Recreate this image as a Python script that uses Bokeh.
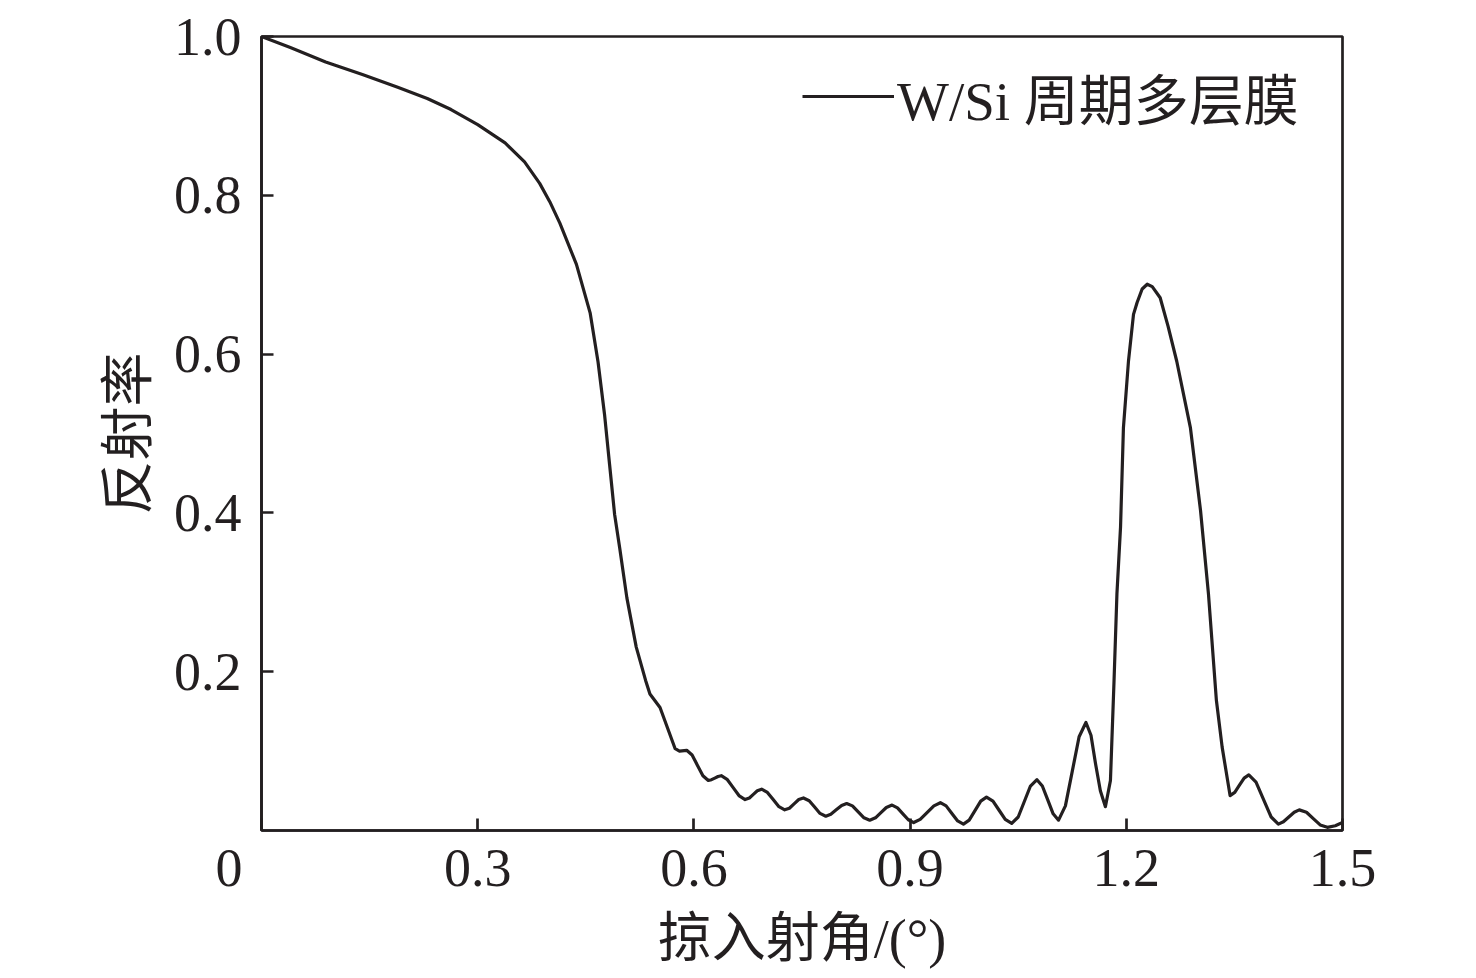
from bokeh.plotting import figure
from bokeh.models import Range1d, FixedTicker, Legend, LegendItem
from bokeh.embed import file_html
from bokeh.resources import INLINE

# ---- data ----
angle = [
    0.000, 0.040, 0.089, 0.140, 0.189, 0.230, 0.263, 0.300, 0.338, 0.365,
    0.386, 0.400, 0.414, 0.437, 0.456, 0.467, 0.476, 0.483, 0.490, 0.497,
    0.507, 0.520, 0.533, 0.539, 0.553, 0.574, 0.580, 0.590,
    0.5975, 0.605, 0.6125, 0.620, 0.6245, 0.629, 0.6335, 0.638,
    0.646, 0.6545, 0.663, 0.671, 0.677, 0.6825, 0.688, 0.694,
    0.702, 0.710, 0.718, 0.726, 0.7325, 0.739, 0.7455, 0.752,
    0.760, 0.7675, 0.775, 0.783, 0.790, 0.7975, 0.805, 0.812,
    0.820, 0.828, 0.836, 0.844, 0.852, 0.8595, 0.867, 0.875,
    0.8825, 0.890, 0.8975, 0.905, 0.914, 0.9235, 0.933, 0.942,
    0.950, 0.958, 0.966, 0.974, 0.982, 0.990, 0.998, 1.006,
    1.015, 1.0235, 1.032, 1.041, 1.050, 1.0585, 1.067, 1.076,
    1.0835, 1.091, 1.0985, 1.106, 1.1155, 1.125, 1.1345, 1.144,
    1.151, 1.1575, 1.164, 1.171, 1.178, 1.183, 1.187, 1.192,
    1.196, 1.203, 1.210, 1.215, 1.222, 1.229, 1.236, 1.247,
    1.258, 1.270, 1.289, 1.303, 1.314, 1.325, 1.333, 1.344,
    1.3505, 1.357, 1.3635, 1.370, 1.380, 1.3905, 1.401, 1.411,
    1.418, 1.4255, 1.433, 1.440, 1.450, 1.4595, 1.469, 1.479,
    1.490, 1.500,
]
reflectivity = [
    1.000, 0.986, 0.968, 0.952, 0.936, 0.922, 0.908, 0.889, 0.866, 0.842,
    0.815, 0.792, 0.765, 0.713, 0.652, 0.590, 0.524, 0.461, 0.398, 0.356,
    0.293, 0.231, 0.189, 0.172, 0.155, 0.103, 0.100, 0.101,
    0.095, 0.082, 0.069, 0.063, 0.064, 0.066, 0.068, 0.069,
    0.0645, 0.054, 0.0435, 0.039, 0.041, 0.0455, 0.050, 0.052,
    0.048, 0.039, 0.030, 0.026, 0.028, 0.0335, 0.039, 0.041,
    0.0375, 0.0295, 0.0215, 0.018, 0.0205, 0.026, 0.0315, 0.034,
    0.031, 0.0235, 0.016, 0.013, 0.016, 0.0225, 0.029, 0.032,
    0.0285, 0.021, 0.0135, 0.010, 0.014, 0.0225, 0.031, 0.035,
    0.031, 0.0215, 0.012, 0.008, 0.013, 0.025, 0.037, 0.042,
    0.037, 0.0255, 0.014, 0.009, 0.017, 0.0365, 0.056, 0.064,
    0.056, 0.0385, 0.021, 0.013, 0.031, 0.0745, 0.118, 0.136,
    0.120, 0.083, 0.050, 0.030, 0.063, 0.189, 0.298, 0.382,
    0.507, 0.591, 0.650, 0.665, 0.682, 0.688, 0.685, 0.671,
    0.635, 0.591, 0.507, 0.403, 0.298, 0.164, 0.105, 0.044,
    0.048, 0.057, 0.066, 0.070, 0.061, 0.039, 0.017, 0.008,
    0.011, 0.017, 0.023, 0.026, 0.023, 0.015, 0.007, 0.004,
    0.006, 0.010,
]
x_ticks = [0.0, 0.3, 0.6, 0.9, 1.2, 1.5]
# the origin label sits left of the corner: trailing em + thin space shift it
x_tick_labels = ["0\u2003\u2009", "0.3", "0.6", "0.9", "1.2", "1.5"]
y_ticks = [0.2, 0.4, 0.6, 0.8, 1.0]
y_tick_labels = ["0.2", "0.4", "0.6", "0.8", "1.0"]
series_name = "W/Si 周期多层膜"
x_title = "掠入射角/(°)"
y_title = "反射率"

INK = "#231f20"
FONT = "'Liberation Serif', 'Noto Sans CJK SC'"
FS = "54px"

p = figure(width=1468, height=975,
           x_range=Range1d(0, 1.5), y_range=Range1d(0, 1.0),
           output_backend="svg", toolbar_location=None,
           min_border_left=261, min_border_right=126,
           min_border_top=36, min_border_bottom=145)
p.grid.visible = False
p.outline_line_color = INK
p.outline_line_width = 2.7
p.background_fill_color = "white"
p.border_fill_color = "white"

p.xaxis.ticker = FixedTicker(ticks=x_ticks)
p.yaxis.ticker = FixedTicker(ticks=y_ticks)
p.xaxis.major_label_overrides = {t: s for t, s in zip(x_ticks, x_tick_labels)}
p.yaxis.major_label_overrides = {t: s for t, s in zip(y_ticks, y_tick_labels)}

for ax in (p.xaxis[0], p.yaxis[0]):
    ax.major_tick_in = 12
    ax.major_tick_out = 0
    ax.minor_tick_in = 0
    ax.minor_tick_out = 0
    ax.axis_line_color = INK
    ax.axis_line_width = 2.7
    ax.major_tick_line_color = INK
    ax.major_tick_line_width = 2.7
    ax.major_label_text_font = FONT
    ax.major_label_text_font_size = FS
    ax.major_label_text_color = INK
    ax.axis_label_text_font = FONT
    ax.axis_label_text_font_size = FS
    ax.axis_label_text_font_style = "normal"
    ax.axis_label_text_color = INK

p.xaxis.axis_label = x_title
p.yaxis.axis_label = y_title
p.xaxis.major_label_standoff = 7
p.xaxis.axis_label_standoff = 8
p.yaxis.major_label_standoff = 20
p.yaxis.axis_label_standoff = 12

r = p.line(angle, reflectivity, line_color=INK, line_width=3.2, line_join="round")

legend = Legend(items=[LegendItem(label=series_name, renderers=[r])],
                location=(541, 694), glyph_width=92, glyph_height=20,
                label_standoff=3, padding=0, margin=0, spacing=0,
                border_line_alpha=0, background_fill_alpha=0,
                label_text_font=FONT, label_text_font_size="55px",
                label_text_color=INK)
p.add_layout(legend)

open("out.html", "w").write(file_html(p, INLINE))
